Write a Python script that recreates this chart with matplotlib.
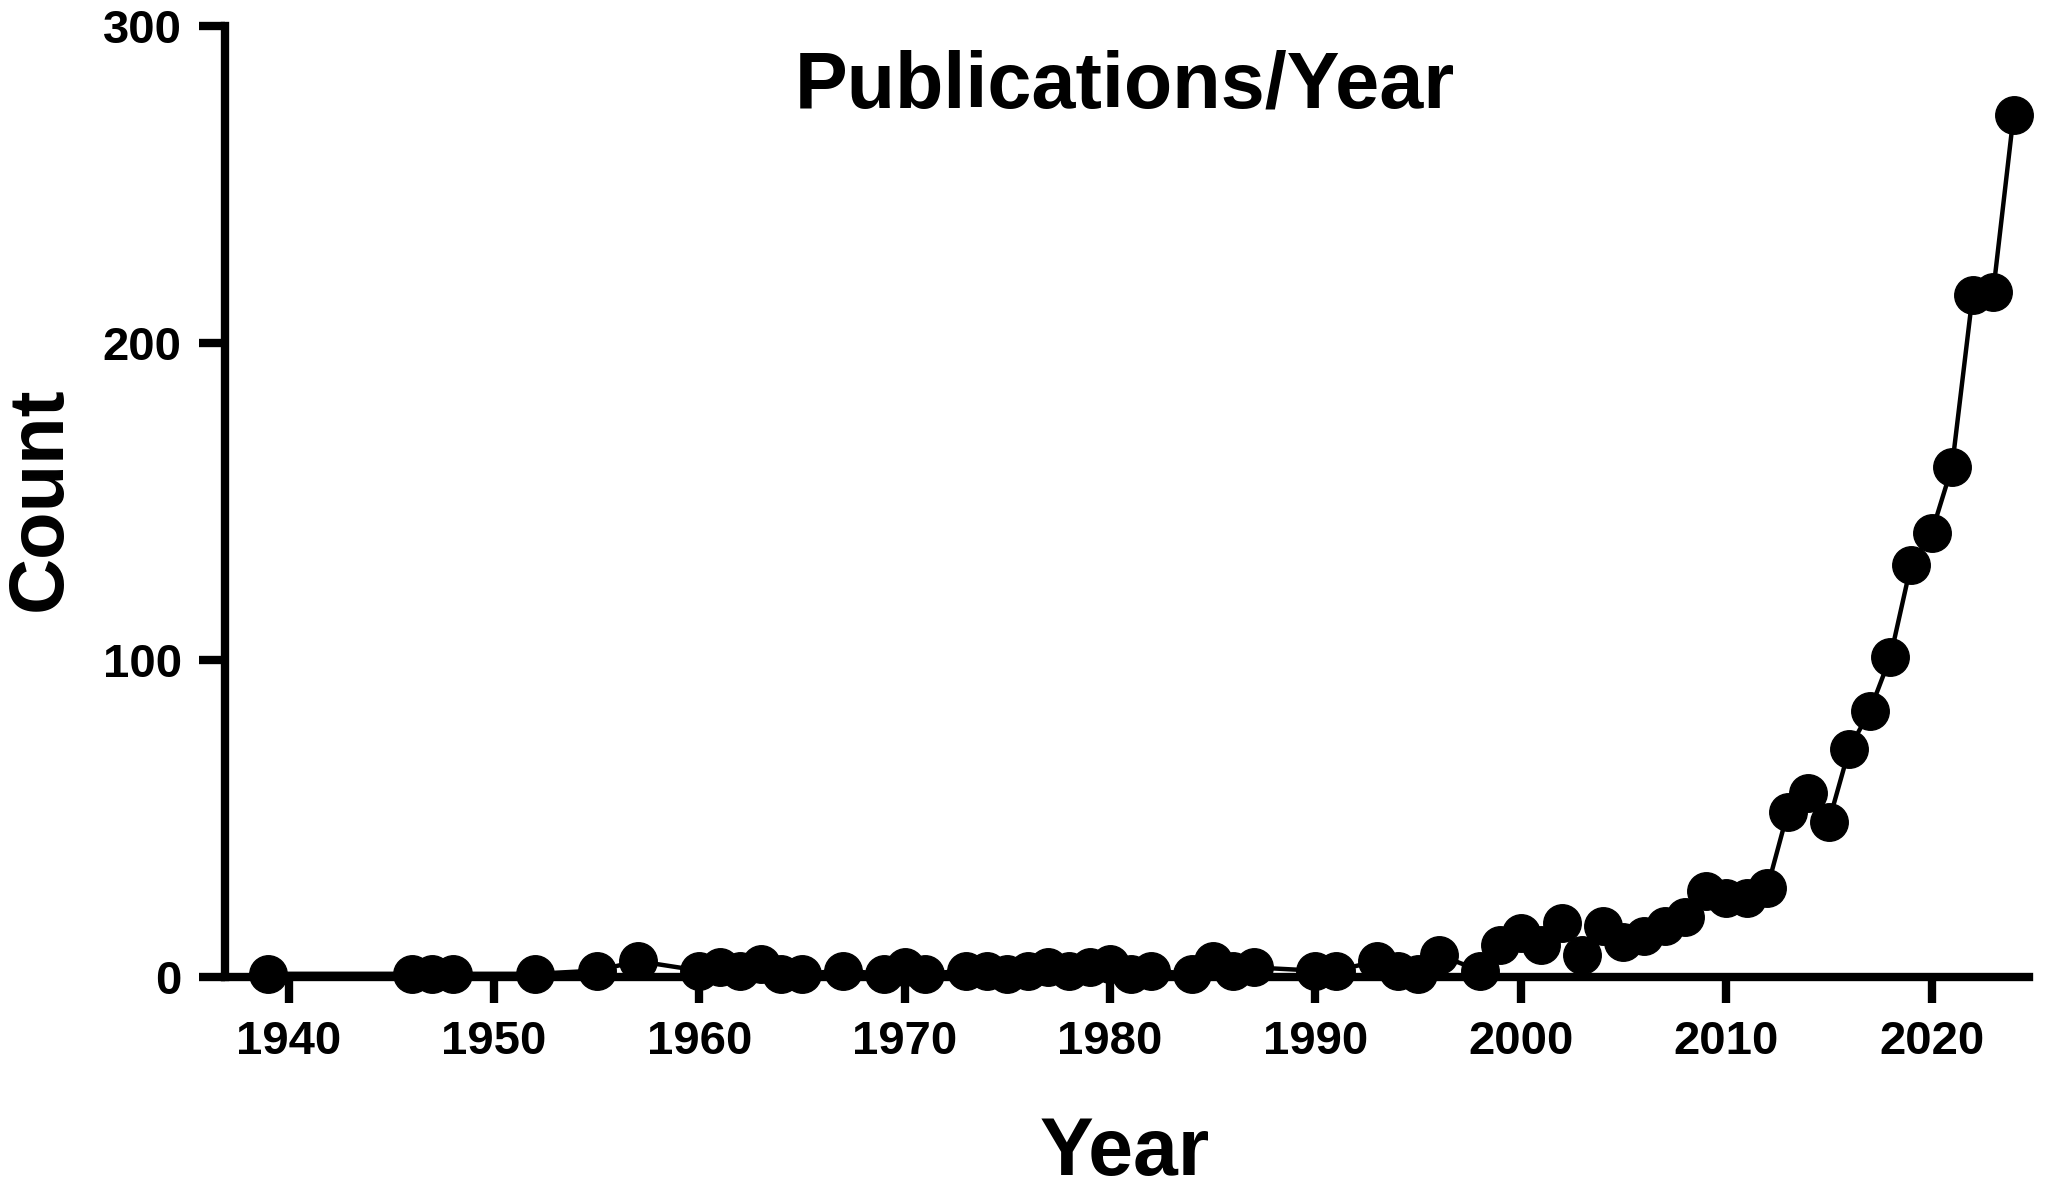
import matplotlib
matplotlib.use("Agg")
import matplotlib.pyplot as plt

plt.rcParams['font.family'] = ['Liberation Sans', 'DejaVu Sans']
plt.rcParams['font.weight'] = 'bold'

# publications per year
years = [1939, 1946, 1947, 1948, 1952, 1955, 1957, 1960, 1961, 1962,
         1963, 1964, 1965, 1967, 1969, 1970, 1971, 1973, 1974, 1975,
         1976, 1977, 1978, 1979, 1980, 1981, 1982, 1984, 1985, 1986,
         1987, 1990, 1991, 1993, 1994, 1995, 1996, 1998, 1999, 2000,
         2001, 2002, 2003, 2004, 2005, 2006, 2007, 2008, 2009, 2010,
         2011, 2012, 2013, 2014, 2015, 2016, 2017, 2018, 2019, 2020,
         2021, 2022, 2023, 2024]
counts = [1, 1, 1, 1, 1, 2, 5, 2, 3, 2,
          4, 1, 1, 2, 1, 3, 1, 2, 2, 1,
          2, 3, 2, 3, 4, 1, 2, 1, 5, 2,
          3, 2, 2, 5, 2, 1, 7, 2, 10, 14,
          10, 17, 7, 16, 11, 13, 16, 19, 27, 25,
          25, 28, 52, 58, 49, 72, 84, 101, 130, 140,
          161, 215, 216, 272]

x_ticks = [1940, 1950, 1960, 1970, 1980, 1990, 2000, 2010, 2020]
y_ticks = [0, 100, 200, 300]

fig = plt.figure(figsize=(20.56, 11.92), dpi=100)
ax = fig.add_axes([0.1094, 0.1804, 0.8775, 0.7978])

ax.plot(years, counts, color='black', lw=3.2, marker='o', ms=27,
        mfc='black', mec='black', clip_on=False, zorder=3)

ax.set_xlim(1936.9, 2024.75)
ax.set_ylim(0, 300)
ax.set_xticks(x_ticks)
ax.set_yticks(y_ticks)

for s in ['top', 'right']:
    ax.spines[s].set_visible(False)
for s in ['left', 'bottom']:
    ax.spines[s].set_linewidth(6)

ax.tick_params(axis='both', width=6, length=19, labelsize=34, pad=12)
for lab in ax.get_xticklabels() + ax.get_yticklabels():
    lab.set_fontweight('bold')

fig.text(0.547, 0.9094, 'Publications/Year', ha='center', va='baseline',
         fontsize=57, fontweight='bold')
fig.text(0.547, 0.0143, 'Year', ha='center', va='baseline',
         fontsize=58, fontweight='bold')
fig.text(0.0195, 0.582, 'Count', ha='center', va='center', rotation=90,
         fontsize=56, fontweight='bold')

fig.savefig('out.png', dpi=100, facecolor='white')
